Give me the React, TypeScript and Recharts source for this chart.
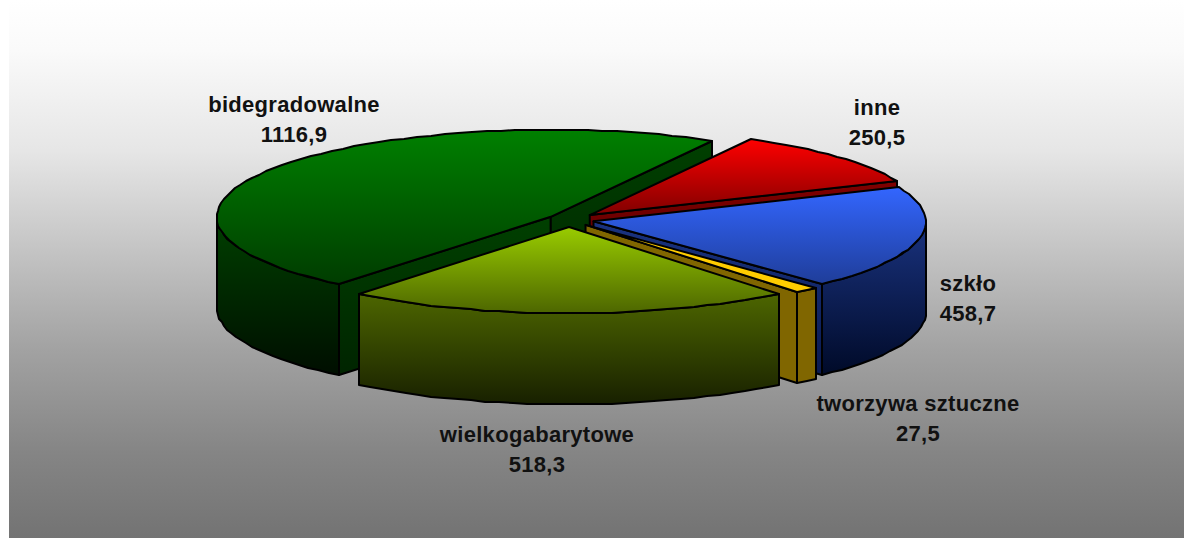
import React from "react";
import { PieChart, Pie } from "recharts";

const categories = ["bidegradowalne", "inne", "szkło", "tworzywa sztuczne", "wielkogabarytowe"];
const values = [1116.9, 250.5, 458.7, 27.5, 518.3];

const WIDTH = 1175;
const HEIGHT = 538;
const CX = 560;
const CY = 220;
const RX = 334;
const RY = 87;
const K = RY / RX;
const DEPTH = 91;

const topColors = ["#008000", "#ff0000", "#3366ff", "#ffcc00", "#99cc00"];
const topEndColors = ["#003c00", "#800000", "#1f3d99", "#ffcc00", "#4d6600"];
const wallColors = ["#004000", "#800000", "#1a3380", "#806600", "#4d6600"];
const sideEndColors = ["#002400", "#400000", "#0a1a50", "#806600", "#2a3800"];
const wallEndColors = ["#000e00", "#200000", "#000a28", "#806600", "#182000"];
const explode = [22, 28, 25, 25, 27];
const radiusScale = [1, 1, 0.995, 1, 0.992];
const labelPos = [
  [285, 106],
  [868, 109],
  [959, 285],
  [909, 405],
  [528, 436],
];

const rad = (d: number) => (d * Math.PI) / 180;

function SliceShape(props: any) {
  const { cx, cy, outerRadius, startAngle, endAngle, index, midAngle } = props;
  const mid = midAngle ?? (startAngle + endAngle) / 2;
  const e = explode[index];
  const r = outerRadius * radiusScale[index];
  const ax = cx + e * Math.cos(rad(mid));
  const ay = cy - e * K * Math.sin(rad(mid));
  const pt = (deg: number, dy = 0) => [
    Math.round(ax + r * Math.cos(rad(deg))),
    Math.round(ay - r * K * Math.sin(rad(deg)) + dy),
  ];
  const arc = (from: number, to: number, dy = 0) => {
    const n = Math.max(2, Math.ceil(Math.abs(to - from) / 2.5));
    const out: number[][] = [];
    for (let i = 0; i <= n; i++) out.push(pt(from + ((to - from) * i) / n, dy));
    return out;
  };
  const toPath = (ps: number[][]) => "M" + ps.map((p) => p.join(",")).join("L") + "Z";

  const apex = [ax, ay];
  const apexLow = [ax, ay + DEPTH];
  const stroke = { stroke: "#000", strokeWidth: 2, strokeLinejoin: "round" as const };

  const topId = `top-${index}`;
  const wallId = `wall-${index}`;
  const sideId = `side-${index}`;

  // Walls that face the viewer
  const walls: React.ReactNode[] = [];
  const edge = (deg: number, key: string) => (
    <path
      key={key}
      d={toPath([apex, pt(deg), pt(deg, DEPTH), apexLow])}
      fill={`url(#${sideId})`}
      {...stroke}
    />
  );
  if (Math.cos(rad(startAngle)) < 0) walls.push(edge(startAngle, "s"));
  if (Math.cos(rad(endAngle)) > 0) walls.push(edge(endAngle, "e"));

  // Front part of the rim: angles in the lower half of the ellipse
  const rims: number[][] = [];
  for (const k of [0, -360, 360]) {
    const lo = Math.max(endAngle, 180 + k);
    const hi = Math.min(startAngle, 360 + k);
    if (hi > lo) rims.push([hi, lo]);
  }

  return (
    <g>
      <defs>
        <linearGradient id={topId} x1="0" y1="0" x2="0" y2="1">
          <stop offset="0" stopColor={topColors[index]} />
          <stop offset="1" stopColor={topEndColors[index]} />
        </linearGradient>
        <linearGradient id={wallId} x1="0" y1="0" x2="0" y2="1">
          <stop offset="0" stopColor={wallColors[index]} />
          <stop offset="1" stopColor={wallEndColors[index]} />
        </linearGradient>
        <linearGradient id={sideId} x1="0" y1="0" x2="0" y2="1">
          <stop offset="0" stopColor={wallColors[index]} />
          <stop offset="1" stopColor={sideEndColors[index]} />
        </linearGradient>
      </defs>
      {walls}
      {rims.map(([from, to], i) => (
        <path
          key={i}
          d={toPath([...arc(from, to), ...arc(to, from, DEPTH)])}
          fill={`url(#${wallId})`}
          {...stroke}
        />
      ))}
      <path d={toPath([apex, ...arc(startAngle, endAngle)])} fill={`url(#${topId})`} {...stroke} />
    </g>
  );
}

function renderLabel(props: any) {
  const { index, value, name } = props;
  const [x, y] = labelPos[index];
  const common = {
    x,
    textAnchor: "middle" as const,
    fill: "#111",
    fontFamily: "'Liberation Sans', Arial, sans-serif",
    fontWeight: 700,
    fontSize: 22,
    letterSpacing: 0.3,
  };
  return (
    <g key={index}>
      <text {...common} y={y} dominantBaseline="middle">{name}</text>
      <text {...common} y={y + 30} dominantBaseline="middle">{String(value).replace(".", ",")}</text>
    </g>
  );
}

const data = categories.map((name, i) => ({ name, value: values[i] }));

export default function App() {
  return (
    <div
      style={{
        position: "absolute",
        left: 9,
        top: 0,
        width: WIDTH,
        height: HEIGHT,
        background:
          "linear-gradient(to bottom, #ffffff 0%, #fafafa 9.3%, #e6e6e6 28%, #c4c4c4 46.5%, #a2a2a2 65%, #858585 84%, #737373 100%)",
      }}
    >
      <PieChart width={WIDTH} height={HEIGHT} margin={{ top: 0, right: 0, bottom: 0, left: 0 }}>
        <Pie
          data={data}
          dataKey="value"
          nameKey="name"
          cx={CX}
          cy={CY}
          innerRadius={0}
          outerRadius={RX}
          startAngle={230.7}
          endAngle={-129.3}
          paddingAngle={0}
          stroke="none"
          shape={SliceShape}
          label={renderLabel}
          labelLine={false}
          isAnimationActive={false}
        />
      </PieChart>
    </div>
  );
}
